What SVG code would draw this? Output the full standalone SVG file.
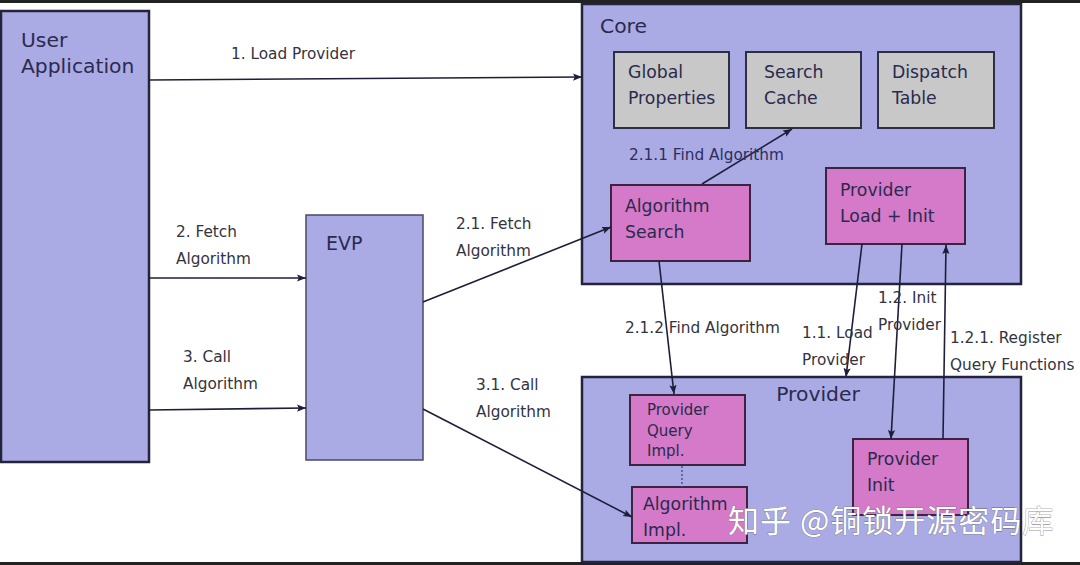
<svg xmlns="http://www.w3.org/2000/svg" width="1080" height="565" viewBox="0 0 1080 565">
<defs>
<marker id="ah" viewBox="0 0 10 10" refX="10" refY="5" markerWidth="9" markerHeight="9" markerUnits="userSpaceOnUse" orient="auto">
<path d="M0,1 L10,5 L0,9 L2,5 z" fill="#1e1e3a"/>
</marker>
<style>
.blue{fill:#aaaae4;stroke:#23233c;stroke-width:2.5}
.evp{fill:#aaaae4;stroke:#4a4a66;stroke-width:1.5}
.grey{fill:#c8c8c8;stroke:#2f2f44;stroke-width:2}
.pink{fill:#d47ac8;stroke:#3a2440;stroke-width:2}
text{font-family:"DejaVu Sans","Liberation Sans",sans-serif}
.nt{fill:#2a2a4e;font-size:17.3px}
.big{fill:#2a2a4e;font-size:20.3px}
.lb{fill:#333340;font-size:15.3px}
.conn line{stroke:#1e1e3a;stroke-width:1.6;marker-end:url(#ah)}
</style>
</defs>
<rect x="0" y="0" width="1080" height="565" fill="#ffffff"/>
<rect x="0" y="0" width="1080" height="3" fill="#222"/>
<rect x="0" y="562" width="1080" height="3" fill="#222"/>

<g id="user-application">
<rect class="blue" x="1" y="11" width="148" height="451"/>
<text class="big" x="21" y="47">User</text>
<text class="big" x="21" y="73">Application</text>
</g>
<g id="evp">
<rect class="evp" x="306" y="215" width="117" height="245"/>
<text class="big" x="326" y="250" style="font-size:19px">EVP</text>
</g>
<g id="core">
<rect class="blue" x="582" y="4" width="439" height="280"/>
<text class="big" x="600" y="33">Core</text>
</g>
<g id="global-properties">
<rect class="grey" x="614" y="52" width="115" height="76"/>
<text class="nt" x="628" y="78">Global</text>
<text class="nt" x="628" y="104">Properties</text>
</g>
<g id="search-cache">
<rect class="grey" x="746" y="52" width="115" height="76"/>
<text class="nt" x="764" y="78">Search</text>
<text class="nt" x="764" y="104">Cache</text>
</g>
<g id="dispatch-table">
<rect class="grey" x="878" y="52" width="116" height="76"/>
<text class="nt" x="892" y="78">Dispatch</text>
<text class="nt" x="892" y="104">Table</text>
</g>
<g id="algorithm-search">
<rect class="pink" x="611" y="185" width="139" height="76"/>
<text class="nt" x="625" y="212">Algorithm</text>
<text class="nt" x="625" y="238">Search</text>
</g>
<g id="provider-load-init">
<rect class="pink" x="826" y="168" width="139" height="76"/>
<text class="nt" x="840" y="196">Provider</text>
<text class="nt" x="840" y="222">Load + Init</text>
</g>
<g id="provider">
<rect class="blue" x="582" y="377" width="439" height="185"/>
<text class="big" x="818" y="401" text-anchor="middle">Provider</text>
</g>
<g id="provider-query-impl">
<rect class="pink" x="630" y="395" width="115" height="70"/>
<text class="nt" x="647" y="415" style="font-size:15px">Provider</text>
<text class="nt" x="647" y="436" style="font-size:15px">Query</text>
<text class="nt" x="647" y="456" style="font-size:15px">Impl.</text>
</g>
<g id="algorithm-impl">
<rect class="pink" x="632" y="487" width="115" height="56"/>
<text class="nt" x="643" y="510">Algorithm</text>
<text class="nt" x="643" y="536">Impl.</text>
</g>
<g id="provider-init">
<rect class="pink" x="853" y="439" width="115" height="76"/>
<text class="nt" x="867" y="465">Provider</text>
<text class="nt" x="867" y="491">Init</text>
</g>

<g id="connectors" class="conn">
<line x1="149" y1="80" x2="582" y2="77"/>
<line x1="149" y1="278" x2="306" y2="278"/>
<line x1="149" y1="410" x2="306" y2="408"/>
<line x1="423" y1="302" x2="611" y2="227"/>
<line x1="423" y1="409" x2="632" y2="517"/>
<line x1="702" y1="184" x2="792" y2="129"/>
<line x1="659" y1="261" x2="674" y2="394"/>
<line x1="862" y1="244" x2="846" y2="377"/>
<line x1="902" y1="244" x2="891" y2="439"/>
<line x1="943" y1="439" x2="946" y2="245"/>
<line x1="682" y1="466" x2="682" y2="487" style="stroke:#4a4a80;stroke-width:1.4;stroke-dasharray:2 2;marker-end:none"/>
</g>

<g id="labels">
<text class="lb" x="231" y="59">1. Load Provider</text>
<text class="lb" x="176" y="237">2. Fetch</text>
<text class="lb" x="176" y="264">Algorithm</text>
<text class="lb" x="183" y="362">3. Call</text>
<text class="lb" x="183" y="389">Algorithm</text>
<text class="lb" x="456" y="229">2.1. Fetch</text>
<text class="lb" x="456" y="256">Algorithm</text>
<text class="lb" x="476" y="390">3.1. Call</text>
<text class="lb" x="476" y="417">Algorithm</text>
<text class="lb" x="629" y="160" style="fill:#2e2e5c">2.1.1 Find Algorithm</text>
<text class="lb" x="625" y="333">2.1.2 Find Algorithm</text>
<text class="lb" x="802" y="338">1.1. Load</text>
<text class="lb" x="802" y="365">Provider</text>
<text class="lb" x="878" y="303">1.2. Init</text>
<text class="lb" x="878" y="330">Provider</text>
<text class="lb" x="950" y="343">1.2.1. Register</text>
<text class="lb" x="950" y="370">Query Functions</text>
</g>

<text x="728" y="532" style="font-family:'Noto Sans CJK SC','DejaVu Sans',sans-serif;font-size:31px;letter-spacing:1px;fill:#ffffff;stroke:#666;stroke-width:0.6;paint-order:stroke">知乎 @铜锁开源密码库</text>
</svg>
